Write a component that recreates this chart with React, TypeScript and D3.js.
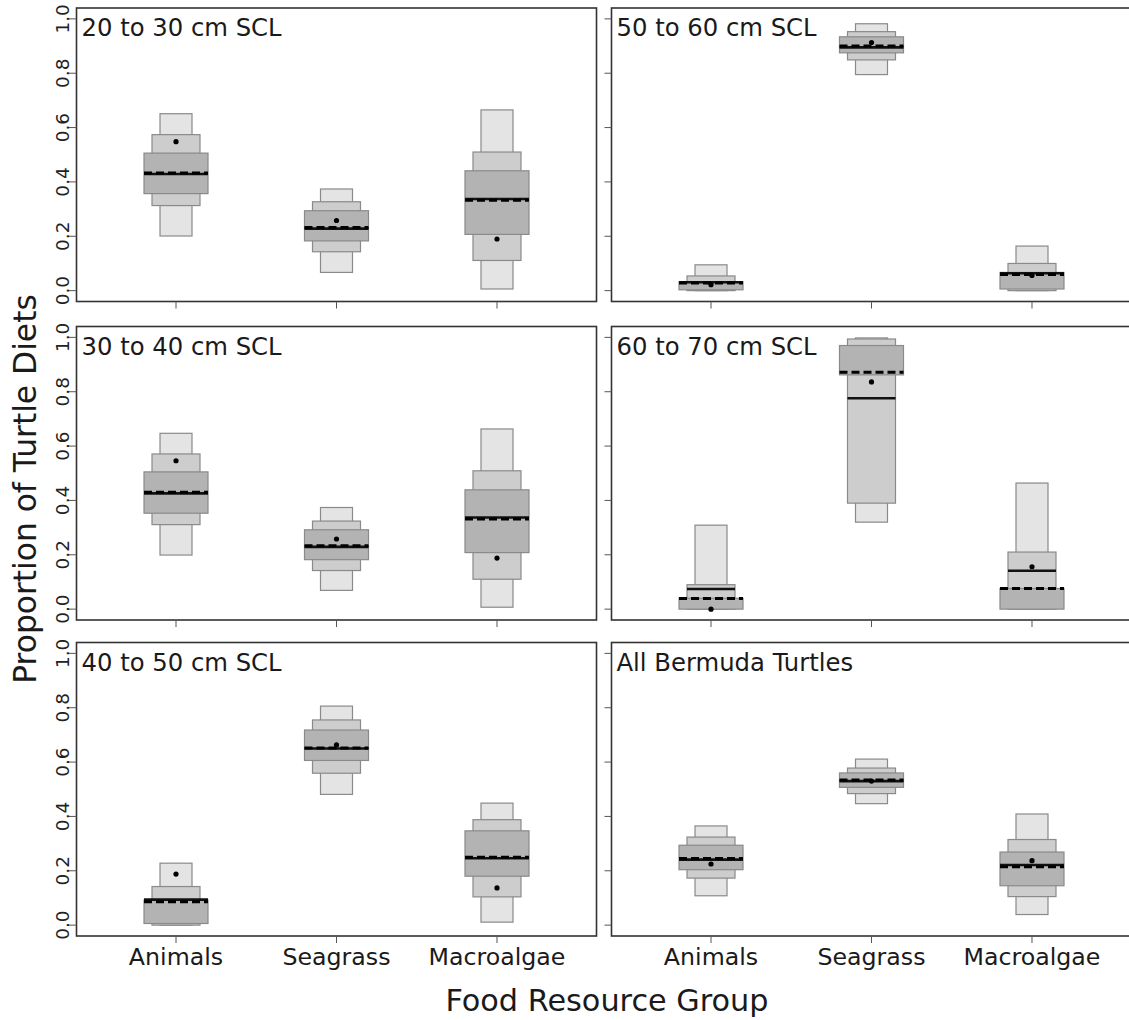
import React from 'react';
import * as d3 from 'd3';

const WIDTH = 1129;
const HEIGHT = 1020;
const FONT = '"DejaVu Sans", Verdana, sans-serif';

const panelTitles = [
  '20 to 30 cm SCL',
  '50 to 60 cm SCL',
  '30 to 40 cm SCL',
  '60 to 70 cm SCL',
  '40 to 50 cm SCL',
  'All Bermuda Turtles',
];
const categories = ['Animals', 'Seagrass', 'Macroalgae'];
const yTicks = [0, 0.2, 0.4, 0.6, 0.8, 1.0];

// credible intervals per panel, per food group (Animals, Seagrass, Macroalgae)
const lo95 = [
  [0.201, 0.067, 0.006],
  [0.0, 0.795, 0.0],
  [0.199, 0.069, 0.007],
  [0.0, 0.32, 0.0],
  [0.0, 0.481, 0.011],
  [0.108, 0.447, 0.039],
];
const hi95 = [
  [0.651, 0.374, 0.665],
  [0.095, 0.982, 0.164],
  [0.647, 0.374, 0.663],
  [0.309, 0.998, 0.464],
  [0.228, 0.806, 0.449],
  [0.365, 0.611, 0.409],
];
const lo75 = [
  [0.313, 0.143, 0.111],
  [0.0, 0.849, 0.0],
  [0.311, 0.142, 0.11],
  [0.0, 0.39, 0.0],
  [0.0, 0.559, 0.104],
  [0.173, 0.484, 0.105],
];
const hi75 = [
  [0.574, 0.327, 0.51],
  [0.054, 0.953, 0.1],
  [0.571, 0.324, 0.509],
  [0.09, 0.994, 0.21],
  [0.142, 0.755, 0.388],
  [0.324, 0.578, 0.315],
];
const lo50 = [
  [0.357, 0.183, 0.207],
  [0.003, 0.875, 0.006],
  [0.353, 0.182, 0.208],
  [0.0, 0.862, 0.0],
  [0.006, 0.606, 0.18],
  [0.204, 0.507, 0.145],
];
const hi50 = [
  [0.506, 0.294, 0.441],
  [0.033, 0.934, 0.067],
  [0.505, 0.292, 0.439],
  [0.04, 0.97, 0.076],
  [0.092, 0.718, 0.347],
  [0.294, 0.56, 0.269],
];
const solidLine = [
  [0.429, 0.228, 0.337],
  [0.031, 0.895, 0.064],
  [0.426, 0.229, 0.337],
  [0.074, 0.776, 0.141],
  [0.094, 0.65, 0.246],
  [0.241, 0.53, 0.221],
];
const dashedLine = [
  [0.433, 0.232, 0.333],
  [0.028, 0.9, 0.059],
  [0.43, 0.233, 0.332],
  [0.039, 0.872, 0.076],
  [0.086, 0.652, 0.25],
  [0.245, 0.534, 0.215],
];
const dots = [
  [0.548, 0.258, 0.19],
  [0.022, 0.913, 0.056],
  [0.546, 0.258, 0.188],
  [0.0, 0.836, 0.156],
  [0.188, 0.663, 0.137],
  [0.225, 0.53, 0.237],
];

const PANEL_W = 520;
const PANEL_H = 293.5;
const COL_X = [76.5, 611.5];
const ROW_Y = [8, 326.5, 642.5];
const HALF = [16, 24, 32]; // 95%, 75%, 50% box half widths

function Panel({ idx }: { idx: number }) {
  const col = idx % 2;
  const row = Math.floor(idx / 2);
  const x0 = COL_X[col];
  const y0 = ROW_Y[row];

  const x = d3.scalePoint<string>().domain(categories).range([x0, x0 + PANEL_W]).padding(0.62);
  const y = d3.scaleLinear().domain([-0.04, 1.04]).range([y0 + PANEL_H, y0]);

  const boxes = [
    { lo: lo95, hi: hi95, half: HALF[0], fill: '#e4e4e4' },
    { lo: lo75, hi: hi75, half: HALF[1], fill: '#cdcdcd' },
    { lo: lo50, hi: hi50, half: HALF[2], fill: '#b3b3b3' },
  ];

  // a line spans the widest box it falls in
  const spanFor = (v: number, j: number) => {
    if (v >= lo50[idx][j] - 0.005 && v <= hi50[idx][j] + 0.005) return HALF[2];
    if (v >= lo75[idx][j] - 0.005 && v <= hi75[idx][j] + 0.005) return HALF[1];
    return HALF[0];
  };

  return (
    <g>
      {categories.map((c, j) => {
        const cx = x(c) as number;
        const sHalf = spanFor(solidLine[idx][j], j);
        const dHalf = spanFor(dashedLine[idx][j], j);
        return (
          <g key={c}>
            {boxes.map((b, k) => (
              <rect
                key={k}
                x={cx - b.half}
                y={y(b.hi[idx][j])}
                width={b.half * 2}
                height={y(b.lo[idx][j]) - y(b.hi[idx][j])}
                fill={b.fill}
                stroke="#8a8a8a"
                strokeWidth={1.2}
              />
            ))}
            <line
              x1={cx - sHalf}
              x2={cx + sHalf}
              y1={y(solidLine[idx][j])}
              y2={y(solidLine[idx][j])}
              stroke="#111"
              strokeWidth={2.6}
            />
            <line
              x1={cx - dHalf}
              x2={cx + dHalf}
              y1={y(dashedLine[idx][j])}
              y2={y(dashedLine[idx][j])}
              stroke="#000"
              strokeWidth={3}
              strokeDasharray="8,4"
            />
            <circle cx={cx} cy={y(dots[idx][j])} r={2.6} fill="#000" />
          </g>
        );
      })}

      <rect x={x0} y={y0} width={PANEL_W} height={PANEL_H} fill="none" stroke="#333" strokeWidth={1.6} />

      {/* y ticks */}
      {yTicks.map((t) => (
        <g key={t}>
          <line
            x1={x0 - (col === 0 ? 9 : 7)}
            x2={x0}
            y1={y(t)}
            y2={y(t)}
            stroke="#555"
            strokeWidth={1}
          />
          {col === 0 && (
            <text
              transform={`translate(${x0 - 8},${y(t)}) rotate(-90)`}
              textAnchor="middle"
              fontSize={18.5}
              fill="#222"
              fontFamily={FONT}
            >
              {t.toFixed(1)}
            </text>
          )}
        </g>
      ))}

      {/* x ticks */}
      {categories.map((c) => (
        <g key={c}>
          <line
            x1={x(c)}
            x2={x(c)}
            y1={y0 + PANEL_H}
            y2={y0 + PANEL_H + 7}
            stroke="#555"
            strokeWidth={1}
          />
          {row === 2 && (
            <text
              x={x(c)}
              y={965}
              textAnchor="middle"
              fontSize={23.7}
              fill="#1a1a1a"
              fontFamily={FONT}
            >
              {c}
            </text>
          )}
        </g>
      ))}

      <text x={x0 + 5} y={y0 + 28} fontSize={24.3} fill="#1a1a1a" fontFamily={FONT}>
        {panelTitles[idx]}
      </text>
    </g>
  );
}

export default function App() {
  return (
    <svg
      width={WIDTH}
      height={HEIGHT}
      viewBox={`0 0 ${WIDTH} ${HEIGHT}`}
      style={{ position: 'absolute', left: 0, top: 0, background: '#fff' }}
    >
      {panelTitles.map((_, i) => (
        <Panel key={i} idx={i} />
      ))}
      <text
        transform="translate(36,489) rotate(-90)"
        textAnchor="middle"
        fontSize={31.3}
        fill="#1a1a1a"
        fontFamily={FONT}
      >
        Proportion of Turtle Diets
      </text>
      <text x={607} y={1011} textAnchor="middle" fontSize={30.3} fill="#1a1a1a" fontFamily={FONT}>
        Food Resource Group
      </text>
    </svg>
  );
}
